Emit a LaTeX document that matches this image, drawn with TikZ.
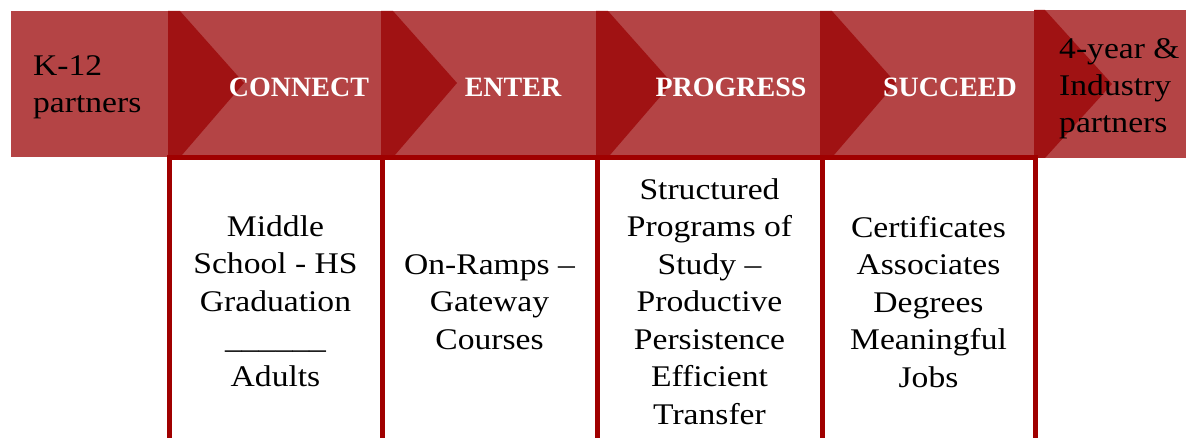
\documentclass[tikz,border=0pt]{standalone}
\usepackage{fontspec}
\setmainfont{Liberation Serif}[FakeStretch=1.12]
\newfontfamily\headfont{Liberation Serif}
\definecolor{bandred}{HTML}{B44445}
\definecolor{tipred}{HTML}{A01213}
\definecolor{rimred}{HTML}{A00000}
\begin{document}
\begin{tikzpicture}[x=1pt,y=-1pt,
  band/.style={fill=bandred},
  tip/.style={fill=tipred},
  colbox/.style={draw=rimred,line width=5pt,fill=white},
  stage/.style={font=\headfont\bfseries\fontsize{28}{34}\selectfont,text=white,inner sep=0pt,anchor=base},
  body/.style={font=\fontsize{30}{37.5}\selectfont,align=center,inner sep=0pt,anchor=base},
  partner/.style={font=\fontsize{30}{37}\selectfont,align=left,inner sep=0pt,anchor=base west}]
\useasboundingbox (0,0) rectangle (1186,438);

% the band of stages
\fill[band] (11,11) rectangle (168,157);
\fill[band] (168,11) rectangle (381,157);
\fill[band] (381,11) rectangle (596,157);
\fill[band] (596,11) rectangle (820,157);
\fill[band] (820,11) rectangle (1034,157);
\fill[band] (1034,10) rectangle (1186,158);

% arrow tips at the start of each stage
\foreach \x in {168,381,596,820}
  \fill[tip] (\x,11) -- (\x+12,11) -- (\x+76,83) -- (\x+14,155) -- (\x,155) -- cycle;
\fill[tip] (1034,10) -- (1045,10) -- (1112,84) -- (1045,158) -- (1034,158) -- cycle;

% columns under the stages
\draw[colbox] (169,157.5) rectangle (382,470);
\draw[colbox] (382,157.5) rectangle (597,470);
\draw[colbox] (597,157.5) rectangle (822.5,470);
\draw[colbox] (822.5,157.5) rectangle (1035,470);

% band labels (multi-line nodes sit on the baseline of their last line)
\node[partner] (k12) at (33,113) {K-12\\partners};
\node[stage] (connect) at (299,97) {CONNECT};
\node[stage] (enter) at (513,97) {ENTER};
\node[stage] (progress) at (731,97) {PROGRESS};
\node[stage] (succeed) at (950,97) {SUCCEED};
\node[partner] (industry) at (1059,133) {4-year \&\\Industry\\partners};

% column texts
\node[body] (connectbody) at (275.5,386) {Middle\\School - HS\\Graduation\\\_\_\_\_\_\_\\Adults};
\node[body] (enterbody) at (489.5,349) {On-Ramps –\\Gateway\\Courses};
\node[body] (progressbody) at (709.5,424) {Structured\\Programs of\\Study –\\Productive\\Persistence\\Efficient\\Transfer};
\node[body] (succeedbody) at (928.5,387) {Certificates\\Associates\\Degrees\\Meaningful\\Jobs};
\end{tikzpicture}
\end{document}
